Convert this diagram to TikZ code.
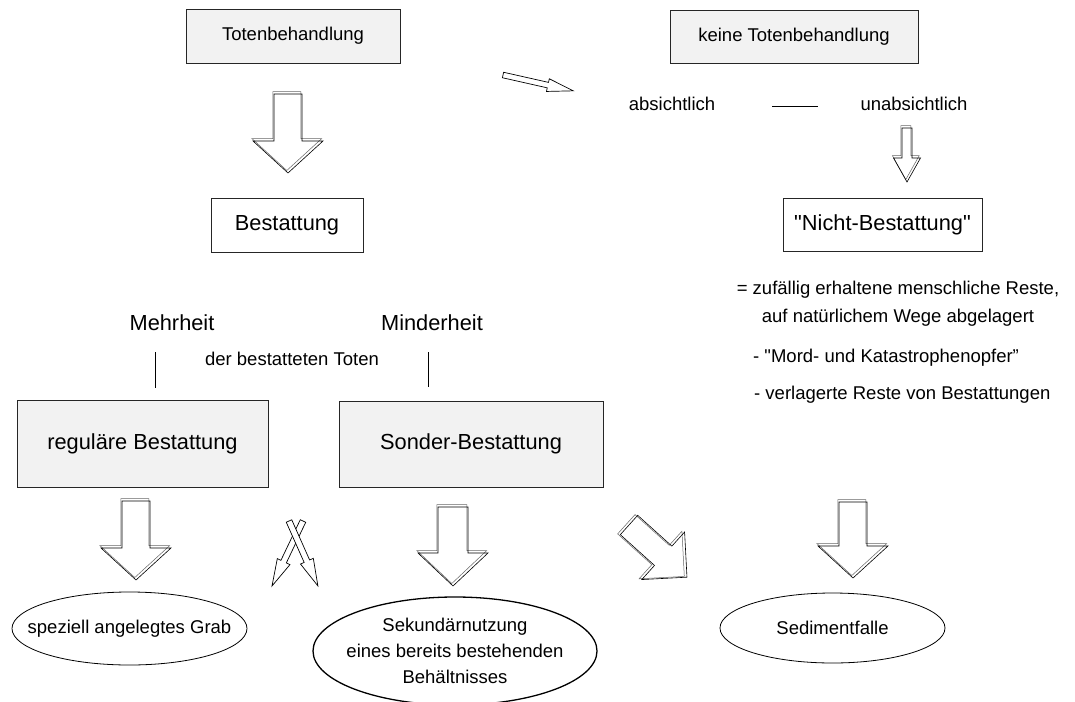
\documentclass[tikz,border=0pt]{standalone}
\usepackage{fontspec}
\setmainfont{Liberation Sans}[Ligatures=TeXOff]
\usetikzlibrary{shapes.geometric}
\definecolor{boxgray}{HTML}{F2F2F2}
\newcommand{\smallfs}{\fontsize{18.5}{22}\selectfont}
\newcommand{\bigfs}{\fontsize{21.8}{26}\selectfont}
\newcommand{\barrowpath}[4]{(0pt,#2pt) -- ({#1pt-#4pt},#2pt) -- ({#1pt-#4pt},#3pt) -- (#1pt,0pt) -- ({#1pt-#4pt},-#3pt) -- ({#1pt-#4pt},-#2pt) -- (0pt,-#2pt) -- cycle}
\tikzset{
  pics/barrow/.style args={#1/#2/#3/#4}{code={
    \draw[black!60, line width=0.5pt, shift={(-2.5pt,-1.2pt)}] \barrowpath{#1}{#2}{#3}{#4};
    \draw[black, line width=0.6pt] \barrowpath{#1}{#2}{#3}{#4};
  }},
  pics/tarrow/.style args={#1/#2/#3/#4}{code={
    \draw[black, line width=0.7pt, fill=white] \barrowpath{#1}{#2}{#3}{#4};
  }},
}
\begin{document}
\begin{tikzpicture}[x=1pt,y=-1pt,
  graybox/.style={draw=black!85, line width=0.8pt, fill=boxgray, inner sep=0pt},
  whitebox/.style={draw=black!85, line width=0.8pt, fill=white, inner sep=0pt},
  ovalline/.style={draw=black, line width=0.8pt},
  lbl/.style={inner sep=0pt},
  thinline/.style={draw=black, line width=0.8pt},
]
\useasboundingbox[fill=white] (0,0) rectangle (1075,701);

% top boxes
\node[graybox, minimum width=214pt, minimum height=54pt, font=\smallfs] (tb) at (293,36) {Totenbehandlung};
\node[graybox, minimum width=248pt, minimum height=53pt, font=\smallfs] (ktb) at (794,36.5) {keine Totenbehandlung};

% absichtlich -- unabsichtlich
\node[lbl, font=\smallfs] (abs) at (672,104) {absichtlich};
\node[lbl, font=\smallfs] (unabs) at (914,104) {unabsichtlich};
\coordinate (ls) at (772,106);
\coordinate (le) at (818,106);
\draw[thinline] (ls) -- (le);

% second row boxes
\node[whitebox, minimum width=152pt, minimum height=54pt, font=\bigfs] (best) at (287,225) {Bestattung};
\node[whitebox, minimum width=199pt, minimum height=53pt, font=\bigfs] (nb) at (882.5,224.5) {"Nicht-Bestattung"};

% description
\node[lbl, font=\fontsize{18.5}{28}\selectfont, align=center] (desc) at (898,304) {= zufällig erhaltene menschliche Reste,\\auf natürlichem Wege abgelagert};
\node[lbl, font=\smallfs, anchor=west] (mord) at (753,358) {- "Mord- und Katastrophenopfer”};
\node[lbl, font=\smallfs, anchor=west] (verl) at (754,395) {- verlagerte Reste von Bestattungen};

% Mehrheit / Minderheit
\node[lbl, font=\bigfs] (mehr) at (172,323) {Mehrheit};
\node[lbl, font=\bigfs] (minder) at (432,323) {Minderheit};
\node[lbl, font=\smallfs] (dbt) at (292,359) {der bestatteten Toten};
\coordinate (m1) at (155,352);
\coordinate (m2) at (155,388);
\coordinate (n1) at (428,352);
\coordinate (n2) at (428,387);
\draw[thinline] (m1) -- (m2);
\draw[thinline] (n1) -- (n2);

% third row boxes
\node[graybox, minimum width=251pt, minimum height=87pt, font=\bigfs] (reg) at (142.5,443.5) {reguläre Bestattung};
\node[graybox, minimum width=264pt, minimum height=86pt, font=\bigfs] (sonder) at (471,444) {Sonder-Bestattung};

% ellipses
\node[lbl, font=\smallfs] (grab) at (129.5,628.5) {speziell angelegtes Grab};
\draw[ovalline] (grab.center) ellipse [x radius=117.5pt, y radius=36.5pt];
\node[lbl, font=\fontsize{18.5}{26}\selectfont, align=center] (sek) at (455,651) {Sekundärnutzung\\eines bereits bestehenden\\Behältnisses};
\draw[ovalline, line width=1.3pt] (sek.center) ellipse [x radius=142pt, y radius=54pt];
\node[lbl, font=\smallfs] (sed) at (832.5,628) {Sedimentfalle};
\draw[ovalline] (sed.center) ellipse [x radius=112.5pt, y radius=35pt];

% block arrows
\pic[rotate=-90] at (288,94) {barrow=79/14/35/32};
\pic[rotate=-90] at (136,501) {barrow=79/14/35/32};
\pic[rotate=-90] at (453,507) {barrow=79/15/35/33};
\pic[rotate=-90] at (853,502) {barrow=76/14/35/32};
\pic[rotate=-42] at (629,525) {barrow=78/13/32/32};
\pic[rotate=-90] at (907,128) {barrow=54/5/13.5/24};

% thin arrows
\pic[rotate=-12.7] at (503,75) {tarrow=72/2.8/6.5/26};
\pic[rotate=-115.5] at (303,521) {tarrow=72/3/7/27};
\pic[rotate=-66] at (289,521) {tarrow=71/3/7/27};
\end{tikzpicture}
\end{document}
